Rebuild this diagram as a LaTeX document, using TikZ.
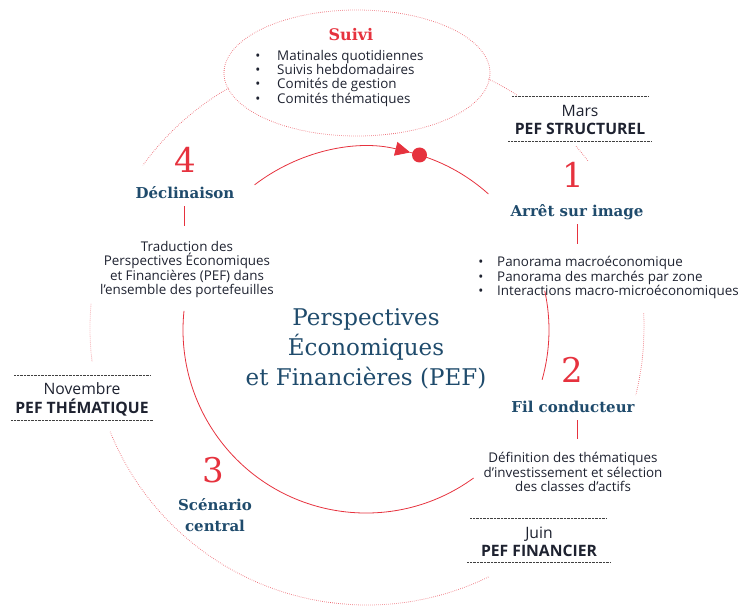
\documentclass[tikz,border=0pt]{standalone}
\usepackage{fontspec}
\setmainfont{Open Sans}
\newfontfamily\serifH{DejaVu Serif}
\usetikzlibrary{arrows.meta}
\definecolor{pefred}{HTML}{E6323E}
\definecolor{pefblue}{HTML}{1F4B6C}
\definecolor{peftext}{HTML}{1E2230}
\tikzset{
  num/.style={font=\serifH\fontsize{34}{34}\selectfont, text=pefred, inner sep=0pt},
  head/.style={font=\serifH\bfseries\fontsize{15}{15}\selectfont, text=pefblue, anchor=base, inner sep=0pt},
  body/.style={font=\fontsize{13.4}{15}\selectfont, text=peftext, anchor=base, inner sep=0pt},
  bodyl/.style={body, anchor=base west},
  big/.style={font=\serifH\fontsize{23}{23}\selectfont, text=pefblue, anchor=base, inner sep=0pt},
  tag/.style={font=\fontsize{15.7}{17}\selectfont, text=peftext, anchor=base, inner sep=0pt},
  tagb/.style={font=\bfseries\fontsize{15.7}{17}\selectfont, text=peftext, anchor=base, inner sep=0pt},
  rline/.style={pefred, line width=0.8pt},
  odot/.style={pefred!75, line width=0.8pt, dash pattern=on 0.6pt off 1.4pt},
  bline/.style={black!75, line width=0.6pt, dash pattern=on 0.6pt off 0.8pt},
}
\begin{document}
\begin{tikzpicture}[x=1pt,y=-1pt]
\useasboundingbox (0,0) rectangle (755,613);
\coordinate (c) at (366,330);
\coordinate (o) at (367,328);
% inner solid circle
\draw[rline, -{Triangle[length=15pt,width=14pt]}] (c) ++(-127.5:183) arc[start angle=-127.5, end angle=-76, radius=183];
\draw[rline] (c) ++(-76:183) arc[start angle=-76, end angle=-48, radius=183];
\fill[pefred] (c) ++(-73:183) circle[radius=7.5];
\draw[rline] (c) ++(-12.4:183) arc[start angle=-12.4, end angle=15.8, radius=183];
\draw[rline] (c) ++(54:183) arc[start angle=54, end angle=186, radius=183];
% outer dotted circle
\draw[odot] (o) ++(-120:277) arc[start angle=-120, end angle=-144, radius=277];
\draw[odot] (o) ++(-64:277) arc[start angle=-64, end angle=-57, radius=277];
\draw[odot] (o) ++(-41:277) arc[start angle=-41, end angle=-37, radius=277];
\draw[odot] (o) ++(-3:277) arc[start angle=-3, end angle=14, radius=277];
\draw[odot] (o) ++(64:277) arc[start angle=64, end angle=158, radius=277];
\draw[odot] (o) ++(-175:277) arc[start angle=-175, end angle=-187, radius=277];
% Suivi ellipse
\draw[odot] (357,73) ellipse[x radius=133, y radius=63];
\node[head, font=\serifH\bfseries\fontsize{16}{16}\selectfont, text=pefred] (suivi) at (351,40) {Suivi};
\node[body] (sb1) at (258,60) {•};
\node[body] (sb2) at (258,74) {•};
\node[body] (sb3) at (258,88) {•};
\node[body] (sb4) at (258,103) {•};
\node[bodyl] (s1) at (277,60) {Matinales quotidiennes};
\node[bodyl] (s2) at (277,74) {Suivis hebdomadaires};
\node[bodyl] (s3) at (277,88) {Comités de gestion};
\node[bodyl] (s4) at (277,103) {Comités thématiques};
% center
\node[big] (p1) at (366,325) {Perspectives};
\node[big] (p2) at (366,355) {Économiques};
\node[big] (p3) at (366,385) {et Financières (PEF)};
% step 1
\node[num] (n1) at (573,175) {1};
\node[head] (h1) at (577,216) {Arrêt sur image};
\coordinate (l1a) at (577,224);
\coordinate (l1b) at (577,244);
\draw[rline] (l1a) -- (l1b);
\node[body] (ab1) at (481,266) {•};
\node[body] (ab2) at (481,281) {•};
\node[body] (ab3) at (481,295) {•};
\node[bodyl] (a1) at (497,266) {Panorama macroéconomique};
\node[bodyl] (a2) at (497,281) {Panorama des marchés par zone};
\node[bodyl] (a3) at (497,295) {Interactions macro-microéconomiques};
% step 2
\node[num] (n2) at (572,370) {2};
\node[head] (h2) at (573,412) {Fil conducteur};
\coordinate (l2a) at (577,420);
\coordinate (l2b) at (577,439);
\draw[rline] (l2a) -- (l2b);
\node[body] (f1) at (573,462) {Définition des thématiques};
\node[body] (f2) at (573,477) {d’investissement et sélection};
\node[body] (f3) at (573,491) {des classes d’actifs};
% step 3
\node[num] (n3) at (213,470) {3};
\node[head] (h3a) at (215,510) {Scénario};
\node[head] (h3b) at (215,531) {central};
% step 4
\node[num] (n4) at (185,160) {4};
\node[head] (h4) at (185,198) {Déclinaison};
\coordinate (l4a) at (184,206);
\coordinate (l4b) at (184,226);
\draw[rline] (l4a) -- (l4b);
\node[body] (d1) at (187,251) {Traduction des};
\node[body] (d2) at (187,265) {Perspectives Économiques};
\node[body] (d3) at (187,280) {et Financières (PEF) dans};
\node[body] (d4) at (187,294) {l’ensemble des portefeuilles};
% Mars
\coordinate (mt1) at (512,96); \coordinate (mt2) at (648,96);
\coordinate (mb1) at (508,141); \coordinate (mb2) at (651,141);
\draw[bline] (mt1) -- (mt2);
\draw[bline] (mb1) -- (mb2);
\node[tag] (mars) at (580,116) {Mars};
\node[tagb] (pefs) at (580,134) {PEF STRUCTUREL};
% Novembre
\coordinate (nt1) at (14,375); \coordinate (nt2) at (150,375);
\coordinate (nb1) at (11,420); \coordinate (nb2) at (153,420);
\draw[bline] (nt1) -- (nt2);
\draw[bline] (nb1) -- (nb2);
\node[tag] (nov) at (82,394) {Novembre};
\node[tagb] (peft) at (82,413) {PEF THÉMATIQUE};
% Juin
\coordinate (jt1) at (470,518); \coordinate (jt2) at (607,518);
\coordinate (jb1) at (467,562); \coordinate (jb2) at (610,562);
\draw[bline] (jt1) -- (jt2);
\draw[bline] (jb1) -- (jb2);
\node[tag] (juin) at (539,538) {Juin};
\node[tagb] (peff) at (539,556) {PEF FINANCIER};
\end{tikzpicture}
\end{document}
